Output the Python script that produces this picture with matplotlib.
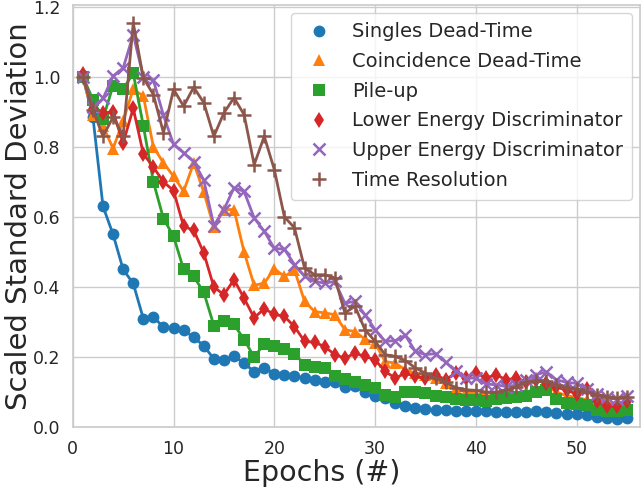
import numpy as np
import matplotlib
matplotlib.use("Agg")
import matplotlib.pyplot as plt
from matplotlib.lines import Line2D
import seaborn as sns

epochs = list(range(1, 56))

singles = [1.0, 0.885, 0.63, 0.55, 0.45, 0.41, 0.31, 0.315, 0.285, 0.283,
           0.276, 0.257, 0.232, 0.195, 0.193, 0.202, 0.183, 0.158, 0.17, 0.152,
           0.148, 0.145, 0.14, 0.135, 0.13, 0.128, 0.115, 0.118, 0.1, 0.09,
           0.082, 0.07, 0.06, 0.055, 0.052, 0.05, 0.048, 0.045, 0.045, 0.046,
           0.045, 0.043, 0.042, 0.044, 0.043, 0.045, 0.044, 0.04, 0.038, 0.037,
           0.035, 0.03, 0.025, 0.024, 0.027]

coincidence = [1.0, 0.89, 0.86, 0.795, 0.875, 0.964, 0.945, 0.80, 0.754, 0.716,
               0.673, 0.754, 0.671, 0.571, 0.621, 0.621, 0.50, 0.405, 0.411, 0.452,
               0.43, 0.449, 0.359, 0.33, 0.326, 0.321, 0.278, 0.273, 0.251, 0.24,
               0.187, 0.183, 0.164, 0.154, 0.149, 0.14, 0.125, 0.11, 0.1, 0.095,
               0.09, 0.088, 0.085, 0.09, 0.1, 0.11, 0.118, 0.1, 0.09, 0.085,
               0.078, 0.07, 0.068, 0.07, 0.072]

pileup = [1.0, 0.935, 0.88, 0.975, 0.965, 1.01, 0.86, 0.70, 0.595, 0.545,
          0.45, 0.43, 0.385, 0.29, 0.303, 0.293, 0.25, 0.2, 0.238, 0.232,
          0.222, 0.21, 0.178, 0.173, 0.168, 0.145, 0.137, 0.13, 0.12, 0.112,
          0.093, 0.085, 0.1, 0.1, 0.097, 0.09, 0.085, 0.08, 0.078, 0.078,
          0.076, 0.08, 0.082, 0.085, 0.09, 0.1, 0.105, 0.08, 0.068, 0.065,
          0.063, 0.05, 0.047, 0.046, 0.048]

lower = [1.007, 0.907, 0.897, 0.90, 0.811, 0.91, 0.78, 0.742, 0.70, 0.675,
         0.573, 0.562, 0.497, 0.40, 0.378, 0.421, 0.368, 0.312, 0.338, 0.322,
         0.316, 0.287, 0.245, 0.242, 0.23, 0.207, 0.197, 0.211, 0.202, 0.192,
         0.159, 0.14, 0.154, 0.145, 0.14, 0.15, 0.135, 0.155, 0.14, 0.155,
         0.14, 0.15, 0.135, 0.14, 0.13, 0.135, 0.125, 0.115, 0.105, 0.095,
         0.11, 0.075, 0.06, 0.06, 0.075]

upper = [1.0, 0.913, 0.938, 1.002, 1.025, 1.12, 1.0, 0.99, 0.89, 0.807,
         0.783, 0.758, 0.705, 0.575, 0.621, 0.683, 0.673, 0.597, 0.559, 0.51,
         0.508, 0.464, 0.43, 0.416, 0.411, 0.416, 0.354, 0.359, 0.321, 0.278,
         0.245, 0.247, 0.262, 0.216, 0.207, 0.21, 0.185, 0.16, 0.14, 0.14,
         0.123, 0.121, 0.116, 0.12, 0.135, 0.15, 0.158, 0.135, 0.128, 0.125,
         0.11, 0.095, 0.085, 0.08, 0.09]

timeres = [1.0, 0.905, 0.83, 0.885, 0.832, 1.154, 0.997, 0.949, 0.84, 0.964,
           0.916, 0.97, 0.926, 0.83, 0.897, 0.94, 0.892, 0.749, 0.83, 0.735,
           0.6, 0.569, 0.454, 0.435, 0.435, 0.426, 0.326, 0.345, 0.278, 0.245,
           0.207, 0.202, 0.19, 0.169, 0.154, 0.14, 0.128, 0.113, 0.107, 0.105,
           0.1, 0.1, 0.105, 0.116, 0.128, 0.133, 0.133, 0.12, 0.113, 0.11,
           0.1, 0.093, 0.087, 0.083, 0.087]

labels = ["Singles Dead-Time", "Coincidence Dead-Time", "Pile-up",
          "Lower Energy Discriminator", "Upper Energy Discriminator",
          "Time Resolution"]

sns.set_theme(style="whitegrid")
plt.rcParams['font.family'] = ['DejaVu Sans']

fig = plt.figure(figsize=(6.44, 4.91), dpi=100)
ax = fig.add_axes([0.113, 0.130, 0.881, 0.860])

series = [singles, coincidence, pileup, lower, upper, timeres]
colors = ["#1f77b4", "#ff7f0e", "#2ca02c", "#d62728", "#9467bd", "#8c564b"]
markers = ["o", "^", "s", "d", "x", "+"]
msizes = [8.5, 9, 8, 8, 8.5, 10]

handles = []
for i, (y, c, m, ms, lab) in enumerate(zip(series, colors, markers, msizes, labels)):
    mew = 1.8 if m in ("x", "+") else 0
    ax.plot(epochs, y, color=c, lw=2, marker=m, ms=ms, mew=mew, mec=c,
            zorder=2 + i)
    handles.append(Line2D([], [], color=c, marker=m, ms=ms, mew=mew, mec=c,
                          linestyle='', label=lab))

ax.set_xlim(0, 56.3)
ax.set_ylim(0, 1.205)
ax.set_xticks([0, 10, 20, 30, 40, 50])
ax.set_yticks([0.0, 0.2, 0.4, 0.6, 0.8, 1.0, 1.2])
ax.tick_params(labelsize=12.5, pad=3)
ax.set_xlabel("Epochs (#)", fontsize=20.5, labelpad=2)
ax.xaxis.set_label_coords(0.439, -0.075)
ax.xaxis.label.set_va('top')
ax.set_ylabel("Scaled Standard Deviation", fontsize=21)
ax.yaxis.set_label_coords(-0.095, 0.5)
ax.yaxis.label.set_va('center')
ax.legend(handles=handles, loc="upper right", fontsize=14,
          handletextpad=0.8, borderpad=0.5, labelspacing=0.55,
          handlelength=1.8, borderaxespad=0.4)

fig.savefig("out.png", dpi=100)
